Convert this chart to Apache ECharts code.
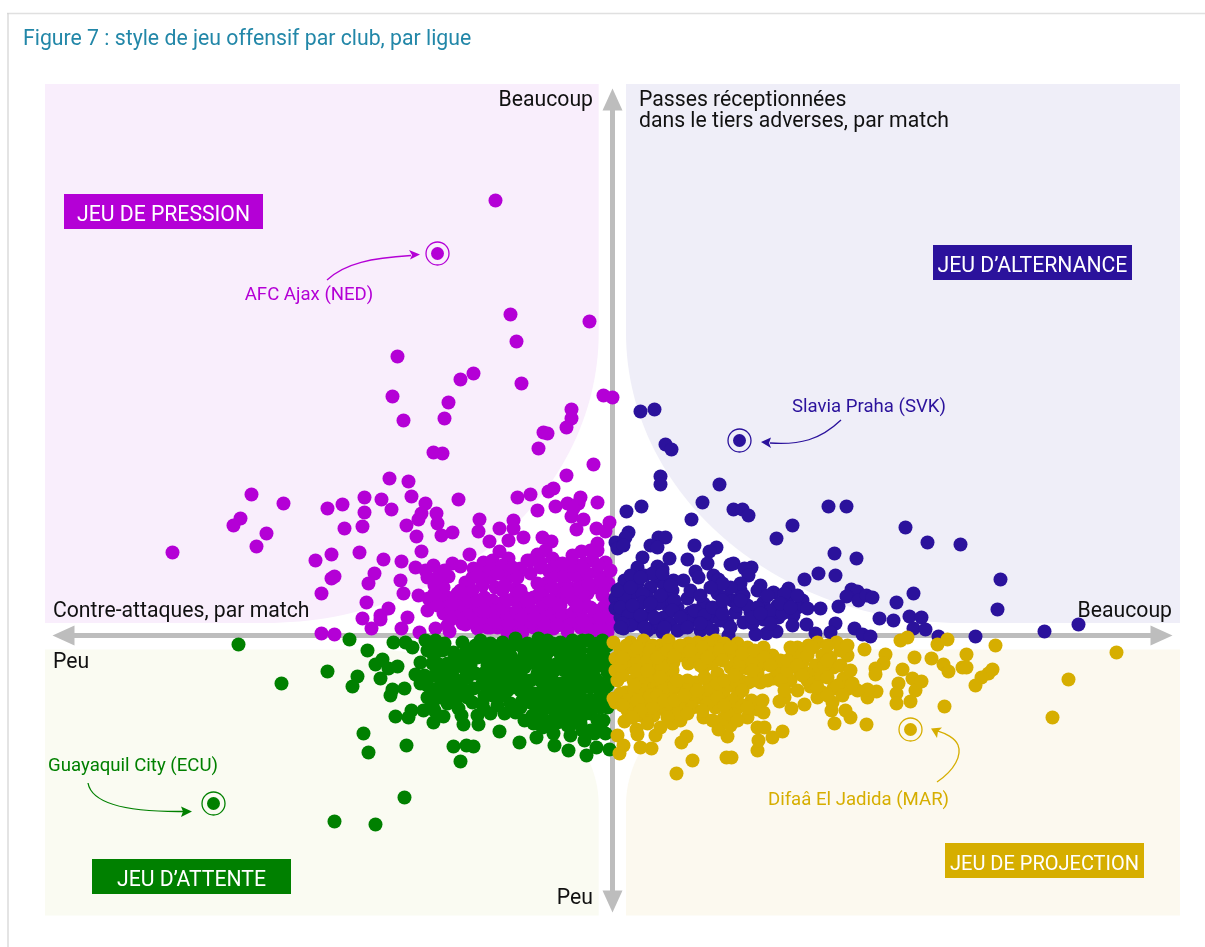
<!DOCTYPE html>
<html>
<head>
<meta charset="utf-8">
<script src="https://cdn.jsdelivr.net/npm/echarts@6/dist/echarts.min.js"></script>
<style>html,body{margin:0;padding:0;background:#fff}#c{width:1205px;height:947px}</style>
</head>
<body>
<div id="c"></div>
<script>
const pressionClubs = [[-117,435],[-102,321],[-96,294],[-23,314],[-215,279],[-139,262],[-152,256],[-91,252],[-220,239],[-164,233],[-168,217],[-209,215],
[-9,240],[0,238],[-41,226],[-41,217],[-46,208],[-69,203],[-65,202],[-74,187],[-19,171],[-46,160],[-59,147],[-64,144],[-82,141],[-95,138],[-32,138],[-45,132],[-34,132],[-15,133],[-75,125],[-57,129],[-39,127],[-41,119],[-29,116],[-99,115],[-99,107],[-113,107],[-36,106],[-3,113],[-16,107],[-7,104],
[-179,183],[-170,182],[-223,157],[-204,154],[-201,139],[-361,141],[-329,132],[-372,117],[-379,110],[-346,102],[-356,89],[-440,83],
[-285,127],[-270,131],[-248,138],[-231,136],[-221,126],[-248,123],[-250,109],[-268,107],[-187,132],[-191,122],[-194,116],[-176,122],[-175,112],[-206,110],[-196,99],[-171,100],[-160,103],[-154,136],[-133,116],[-134,104],[-123,94],[-104,95],[-89,98],[-70,98],[-61,94],[-15,92],[-15,85],[-113,84],[-104,77],[-143,81],[-191,84],[-253,83],[-281,81],[-297,75],[-229,76],[-211,74],[-197,68],[-179,70],[-187,65],[-164,59],[-160,72],[-152,69],[-238,62],[-244,52],[-212,55],[-209,42],[-281,57],[-278,59],[-291,42],[-246,33],[-224,27],[-232,20],[-232,16],[-250,17],[-241,7],[-205,18],[-211,7],[-194,40],[-184,37],[-185,25],[-193,3],[-177,7],[-163,4],[-169,22],[-161,27],[-160,17],[-147,11],[-140,26],[-291,2],[-278,1],
[-185,58],[-169,48],[-155,42],[-147,53],[-139,67],[-129,73],[-120,75],[-130,50],[-117,48],[-105,58],[-112,32],[-97,47],[-92,67],[-85,75],[-75,81],[-67,85],[-60,77],[-64,65],[-65,53],[-79,38],[-92,35],[-102,22],[-122,18],[-135,22],[-135,7],[-115,8],[-87,17],[-99,7],[-79,8],[-65,22],[-52,30],[-49,13],[-59,7],[-45,67],[-40,80],[-31,84],[-35,70],[-20,75],[-7,73],[-16,63],[-7,58],[-30,55],[-42,47],[-25,42],[-10,40],[-4,52],[-39,35],[-22,28],[-9,28],[-32,22],[-15,15],[-2,12],[-32,8],[-19,5],[-5,3],
[-48,38],[-38,24],[-72,12],[-85,25],[-108,10],[-125,8],[-70,30],[-110,45],[-55,40],[-25,15],[-45,20],[-120,35],[-125,28],
[-150,30],[-145,38],[-140,45],[-128,38],[-122,58],[-130,62],[-112,62],[-108,20],[-118,24],[-128,14],[-150,22],[-165,38],[-172,60],[-178,50],
[-95,12],[-90,28],[-82,12],[-70,20],[-60,22],[-52,18],[-42,12],[-25,8],[-12,8],[-38,14],[-18,25],[-28,32],[-12,18],[-5,20],[-30,42],[-18,48],[-8,48],[-36,47],[-48,52],[-55,60],[-50,46],[-58,34],[-70,42],[-75,52],[-80,25],[-96,24],[-104,12],[-110,28],[-88,38],[-100,36],[-122,8],[-105,2],[-90,3],[-70,3],[-45,4],[-35,30],[-62,14],[-60,48],[-72,68],[-55,72],[-48,60],[-38,60],[-25,62],[-24,52],[-14,70],[-22,85],[-2,65],[-2,35],[-40,70],[-72,73],[-82,62],
[-175,58],[-168,65],[-140,58],[-135,35],[-122,66],[-110,70],[-100,68],[-108,50],[-140,15],[-118,14],[-92,45],[-95,58],[-82,75],[-73,42],[-68,12],[-55,30],[-28,72],[-145,20],[-170,35],[-175,30],[-160,32],[-150,12],[-152,45],[-178,42],[-165,10],[-115,62],[-135,60],[-128,25],[-105,35],[-85,35],[-90,18],[-78,18],[-62,35],[-45,45],[-50,72],[-30,68],[-12,55],[-30,15],[-55,10]];

const alternanceClubs = [[28,224],[42,226],[53,191],[59,186],[48,159],[48,151],[107,151],[90,133],[121,126],[130,126],[136,120],[79,116],[14,124],[29,129],
[216,129],[234,129],[180,110],[164,97],[293,108],[16,103],[13,98],[3,93],[5,87],[11,90],[46,98],[53,98],[38,90],[45,88],[82,90],[104,88],[97,84],[30,78],[25,68],[57,77],[45,69],[50,66],[75,76],[95,72],[118,71],[121,72],[139,68],[132,67],[136,60],[83,64],[86,58],[101,60],[106,56],[222,82],[244,77],[206,62],[223,60],[192,56],[176,47],[148,50],[128,45],[161,43],[239,46],[245,44],[234,39],[246,35],[254,40],[260,38],[301,42],[284,33],[226,29],[208,27],[190,35],[185,28],[181,20],[267,17],[281,15],[297,19],[194,11],[223,12],[242,7],[203,2],[218,3],[250,1],[258,-1],[301,7],[164,4],[154,2],[143,1],[116,0],[166,18],[151,16],[138,23],[131,13],[123,23],[115,13],[101,19],[91,32],[105,42],[108,28],[120,35],[131,40],[151,33],[165,30],[175,35],[100,5],[85,15],[78,23],[75,37],[78,45],[71,55],[61,55],[55,42],[45,55],[38,48],[25,52],[8,47],[3,37],[3,27],[15,33],[21,42],[35,38],[25,27],[38,22],[51,18],[65,28],[55,30],[11,7],[25,12],[40,8],[58,12],[71,8],[88,5],[8,18],[46,32],
[315,93],[348,91],[388,56],[385,26],[309,18],[466,11],[432,4],[363,-1],[313,6],[326,-1],
[12,55],[18,60],[32,60],[40,62],[52,50],[60,45],[30,42],[12,38],[8,28],[16,20],[30,33],[48,40],[62,35],[70,20],[60,25],[45,12],[30,18],[18,10],[35,5],[50,3],[65,5],[76,14],[82,25],[92,20],[95,8],[108,15],[112,38],[125,30],[135,30],[140,12],[145,45],[155,40],[158,25],[170,22],[172,42],[185,40],[195,27],[145,28],[128,52],[118,48],[110,52],[10,12],
[20,30],[28,20],[38,32],[42,18],[52,8],[68,18],[75,8],[88,12],[100,28],[110,22],[118,8],[128,35],[140,18],[148,22],[158,12],[168,32],[178,28],[180,10],[5,45],[18,48],[28,58],[50,62],[58,50],[8,8],[32,8],[88,40],[98,48],[110,35]];

const attenteClubs = [[-374,-9],[-331,-48],[-285,-36],[-208,-162],[-278,-186],[-237,-189],
[-263,-4],[-245,-15],[-219,-7],[-207,-7],[-200,-12],[-230,-24],[-237,-29],[-224,-33],[-215,-31],[-232,-43],[-255,-41],[-260,-51],[-220,-54],[-208,-53],[-222,-60],[-217,-81],[-204,-82],[-201,-75],[-249,-98],[-244,-117],[-206,-110],[-159,-111],[-146,-110],[-139,-111],[-152,-126],[-134,-89],[-113,-96],[-93,-107],[-76,-102],[-58,-110],[-44,-115],[-26,-120],[-16,-112],[-3,-114],[-149,-89],[-154,-73],[-151,-80],[-179,-87],[-169,-81],[-189,-75],
[-187,-5],[-177,-5],[-180,-18],[-192,-27],[-175,-28],[-197,-39],[-159,-17],[-150,-7],[-132,-5],[-137,-10],[-144,-23],[-159,-33],[-159,-42],[-137,-38],[-185,-50],[-172,-50],[-185,-62],[-159,-52],[-139,-53],[-140,-67],[-129,-73],[-119,-52],[-115,-70],[-112,-58],[-110,-7],[-115,-27],[-92,-10],[-97,-3],[-102,-20],[-99,-38],[-92,-55],[-97,-77],[-80,-80],[-79,-88],[-74,-3],[-65,-5],[-72,-22],[-75,-38],[-72,-58],[-65,-72],[-59,-98],[-42,-100],[-55,-87],[-52,-7],[-55,-28],[-52,-48],[-50,-68],[-40,-5],[-42,-25],[-39,-43],[-35,-72],[-32,-88],[-22,-95],[-24,-5],[-25,-25],[-17,-43],[-22,-78],[-9,-85],[-7,-98],[-10,-5],[-9,-20],[-5,-37],[-9,-58],[-12,-72],[-29,-52],[-62,-38],[-85,-25],[-125,-22],[-129,-38],[-82,-45],[-105,-28],[-69,-52],[-82,-67],[-45,-57],[-32,-62],[-55,-15],[-32,-15],[-65,-17],[-19,-15],[-112,-15],[-127,-50],
[-105,-45],[-60,-85],[-45,-80],[-88,-32],[-62,-62],[-48,-35],[-35,-30],[-112,-42],[-128,-60],[-172,-62],[-165,-68],[-76,-15],[-15,-28],[-20,-65],
[-170,-15],[-165,-28],[-150,-20],[-130,-15],[-122,-8],[-118,-35],[-125,-30],[-108,-18],[-100,-10],[-85,-8],[-82,-18],[-92,-25],[-95,-45],[-85,-55],[-108,-60],[-102,-68],[-90,-65],[-78,-58],[-72,-32],[-65,-28],[-60,-8],[-48,-15],[-48,-25],[-60,-45],[-58,-55],[-50,-58],[-40,-35],[-32,-35],[-25,-38],[-18,-33],[-10,-30],[-22,-52],[-15,-50],[-38,-55],[-25,-65],[-40,-65],[-55,-65],[-58,-75],[-70,-82],[-88,-85],[-45,-90],[-30,-80],[-12,-60],[-15,-85],[-18,-98],[-28,-105],[-40,-88],[-65,-88],[-5,-72],[-5,-10],[-15,-8],[-30,-5],[-15,-18],[-5,-25],[-120,-60],[-118,-42],[-105,-55],[-145,-42],[-148,-33],[-165,-42],[-148,-55],[-175,-60],[-178,-40],[-188,-40],[-180,-70],[-160,-62],
[-180,-28],[-170,-38],[-168,-8],[-155,-25],[-145,-15],[-142,-30],[-135,-22],[-128,-10],[-120,-18],[-118,-25],[-108,-35],[-100,-30],[-92,-35],[-88,-18],[-78,-28],[-70,-12],[-65,-38],[-58,-35],[-52,-18],[-42,-15],[-35,-20],[-28,-25],[-20,-22],[-10,-12],[-32,-45],[-45,-45],[-22,-42],[-12,-48],[-5,-50],[-72,-45],[-88,-45],[-100,-52],[-112,-50],[-130,-48],[-150,-45],[-155,-62],[-145,-62],[-130,-68],[-122,-78],[-108,-78],[-92,-72],[-75,-70],[-68,-62],[-48,-72],[-42,-75],[-28,-72],[-18,-72],[-8,-68],[-12,-92],[-30,-95],[-35,-80],[-50,-78],[-70,-92],[-180,-58],[-192,-48],[-175,-15],[-185,-15],[-178,-75],[-165,-55],[-135,-80]];

const projectionClubs = [[64,-138],[80,-125],[114,-122],[119,-122],[145,-115],[146,-105],[160,-102],[170,-96],[145,-92],[152,-92],[115,-101],[106,-94],[118,-90],[74,-101],[69,-107],[43,-100],[48,-92],[39,-113],[28,-112],[24,-94],[25,-99],[12,-86],[5,-100],[11,-110],[7,-118],[222,-88],[254,-89],[238,-82],[233,-75],[219,-75],[192,-69],[179,-73],[167,-66],[172,-62],[151,-77],[145,-74],[135,-82],[139,-65],[125,-60],[123,-75],[111,-83],[103,-72],[91,-82],[68,-85],[60,-88],[53,-75],[28,-80],[41,-80],[3,-67],
[252,-14],[273,-19],[271,-28],[263,-33],[263,-39],[302,-22],[290,-34],[300,-43],[286,-48],[284,-58],[284,-68],[298,-66],[303,-55],[264,-56],[255,-62],[255,-54],[245,-55],[236,-53],[231,-43],[221,-32],[221,-53],[220,-67],[210,-57],[198,-51],[205,-45],[208,-38],[203,-30],[210,-20],[218,-22],[235,-20],[228,-15],[224,-7],[205,-7],[196,-10],[185,-12],[180,-20],[190,-27],[188,-38],[178,-45],[185,-55],[161,-43],[165,-35],[151,-12],[160,-20],[148,-30],[148,-47],[135,-33],[136,-47],[128,-45],[125,-8],[115,-15],[135,-12],[108,-23],[118,-32],[103,-5],[95,-7],[85,-7],[76,-8],[88,-18],[76,-28],[91,-32],[105,-38],[83,-47],[101,-50],[111,-58],[88,-62],[68,-53],[58,-60],[71,-68],[43,-65],[31,-67],[25,-58],[13,-57],[1,-63],[5,-45],[3,-35],[3,-23],[1,-7],[18,-7],[31,-5],[31,-17],[16,-20],[18,-32],[31,-33],[48,-10],[56,-5],[63,-12],[51,-22],[61,-27],[45,-37],[58,-42],[38,-48],[21,-45],[13,-67],
[288,-5],[295,-2],[325,-9],[335,-4],[383,-10],[354,-19],[319,-23],[331,-29],[336,-36],[350,-32],[354,-32],[309,-46],[332,-71],[380,-34],[376,-38],[369,-42],[363,-50],[504,-17],[456,-44],[440,-82],
[10,-40],[25,-25],[40,-25],[15,-75],[30,-45],[70,-20],[60,-35],[75,-45],[45,-50],[95,-45],[20,-60],[60,-72],[90,-25],[48,-55],[80,-65],[100,-62],
[8,-15],[8,-30],[8,-58],[22,-15],[24,-35],[35,-25],[40,-10],[38,-40],[50,-32],[52,-45],[65,-20],[72,-15],[82,-20],[90,-12],[100,-18],[100,-28],[112,-8],[122,-20],[15,-65],[22,-72],[35,-72],[48,-70],[55,-68],[30,-55],[50,-55],[62,-50],[75,-55],[80,-72],[65,-78],[40,-72],[35,-88],[95,-55],[95,-68],[105,-62],[118,-50],[125,-35],[128,-25],[140,-25],[145,-38],[155,-45],[168,-45],[172,-55],[175,-35],[195,-38],[190,-18],[195,-45],[212,-30],[215,-42],[225,-50],[120,-65],[130,-70],[150,-65],[115,-78],[100,-85],[90,-75],[215,-10],[235,-10],[205,-62],
[10,-22],[14,-10],[25,-12],[38,-15],[45,-22],[55,-15],[62,-20],[68,-10],[78,-15],[88,-30],[95,-22],[108,-14],[118,-12],[130,-18],[142,-15],[152,-22],[168,-25],[178,-12],[195,-20],[200,-12],[215,-25],[228,-30],[238,-35],[10,-70],[25,-65],[38,-60],[28,-75],[45,-60],[52,-65],[62,-65],[72,-60],[85,-55],[105,-48],[112,-45],[125,-48],[130,-55],[140,-45],[158,-30],[175,-25],[185,-30],[190,-40],[205,-52],[215,-60],[230,-60],[240,-48],[22,-50],[35,-35],[48,-42],[65,-45],[92,-42],[110,-25],[122,-40],[140,-35],[112,-70],[125,-85],[135,-72],[20,-82],[55,-82],[75,-78]];

const highlightedClubs = [
  {name:'AFC Ajax (NED)', value:[-175,382], color:'#b400d6'},
  {name:'Slavia Praha (SVK)', value:[127,195], color:'#2b129c'},
  {name:'Difaâ El Jadida (MAR)', value:[298,-94], color:'#d6ae00'},
  {name:'Guayaquil City (ECU)', value:[-399,-168], color:'#008000'}
];
const colors = {press:'#b400d6', alt:'#2b129c', att:'#008000', proj:'#d6ae00'};
const F = 'Roboto, sans-serif';

function dots(data,color){
  return {type:'scatter',data:data,symbol:'circle',symbolSize:14,silent:true,
    itemStyle:{color:color,opacity:1},emphasis:{disabled:true}};
}
function arc(cx,cy,rx,ry,a0,a1){
  const out=[];
  for(let i=0;i<=60;i++){const a=(a0+(a1-a0)*i/60)*Math.PI/180;out.push([cx+rx*Math.cos(a),cy+ry*Math.sin(a)]);}
  return out;
}
function bg(pts,fill){return {type:'polygon',z:-2,silent:true,shape:{points:pts},style:{fill:fill}};}
function txt(x,y,t,fill,size,align){return {type:'text',z:1,silent:true,x:x,y:y+2,style:{text:t,fill:fill,font:size+'px '+F,textAlign:align||'left',textVerticalAlign:'middle'}};}
function box(x,y,w,h,fill,t,size){return [
  {type:'rect',z:1,silent:true,shape:{x:x,y:y,width:w,height:h},style:{fill:fill}},
  {type:'text',z:1.5,silent:true,x:x+w/2,y:y+h/2+4.5,style:{text:t,fill:'#fff',font:(size||21.2)+'px '+F,textAlign:'center',textVerticalAlign:'middle'}}
];}
function curve(p,color){return {type:'bezierCurve',z:1,silent:true,shape:{x1:p[0],y1:p[1],cpx1:p[2],cpy1:p[3],cpx2:p[4],cpy2:p[5],x2:p[6],y2:p[7]},style:{fill:'none',stroke:color,lineWidth:1.3}};}
function head(pts,color){return {type:'polygon',z:1,silent:true,shape:{points:pts},style:{fill:color}};}

const graphics = [
  {type:'line',z:-3,silent:true,shape:{x1:7,y1:13.5,x2:1205,y2:13.5},style:{stroke:'#e0e0e0',lineWidth:1.6}},
  {type:'line',z:-3,silent:true,shape:{x1:8,y1:13,x2:8,y2:947},style:{stroke:'#d2d2d2',lineWidth:1.2}},
  bg([[45,84],[598.7,84],...arc(265,333,333.7,290,0,90),[45,623]],'#f9eefc'),
  bg([[1180,84],[626,84],...arc(960,333,334,290,180,90),[1180,623]],'#efeef8'),
  bg([[45,915.5],[598.7,915.5],...arc(365,805,233.7,155.5,0,-90),[45,649.5]],'#fafbf2'),
  bg([[1180,915.5],[626,915.5],...arc(860,805,234,155.5,180,270),[1180,649.5]],'#fcf9ef'),
  txt(23,38,'Figure 7 : style de jeu offensif par club, par ligue','#2287a8',21.25),
  txt(593,99,'Beaucoup','#111',21.2,'right'),
  txt(639,99,'Passes réceptionnées','#111',21.2),
  txt(639,120,'dans le tiers adverses, par match','#111',21.2),
  txt(53,610,'Contre-attaques, par match','#111',21.2),
  txt(1172,610,'Beaucoup','#111',21.2,'right'),
  txt(53,661,'Peu','#111',21.2),
  txt(593,897,'Peu','#111',21.2,'right'),
  ...box(64,194,199,35,colors.press,'JEU DE PRESSION'),
  ...box(933,245,199,35,colors.alt,'JEU D’ALTERNANCE'),
  ...box(92,859,199,35,colors.att,'JEU D’ATTENTE'),
  ...box(945,843,199,35,colors.proj,'JEU DE PROJECTION',20),
  txt(309,293,highlightedClubs[0].name,colors.press,18.6,'center'),
  txt(869,405.5,highlightedClubs[1].name,colors.alt,18.6,'center'),
  txt(858.5,798,highlightedClubs[2].name,colors.proj,18.6,'center'),
  txt(133,764,highlightedClubs[3].name,colors.att,18.6,'center'),
  curve([327,280,345,263,372,258,411,255.5],colors.press),
  head([[420,254.5],[409,250],[412,255],[410,259.5]],colors.press),
  curve([841,420,820,440,800,445,770,443],colors.alt),
  head([[761,442],[771,437.5],[769,443],[771,448]],colors.alt),
  curve([937,782,955,770,962,755,958,745],colors.proj),
  curve([958,745,955,738,945,733,938,731],colors.proj),
  head([[931,728.5],[942,727.5],[938,731.5],[937,738]],colors.proj),
  curve([88,783,92,805,130,812,183,811.5],colors.att),
  head([[192,811.5],[181,806.5],[183,811.5],[181,817]],colors.att)
];

const axisBase = {type:'value',splitLine:{show:false},axisTick:{show:false},axisLabel:{show:false},
  axisLine:{show:true,onZero:true,symbol:['triangle','triangle'],symbolSize:[20,22],lineStyle:{color:'#bdbdbd',width:5}}};

const chart = echarts.init(document.getElementById('c'),null,{renderer:'canvas'});
chart.setOption({
  animation:false,
  backgroundColor:'#fff',
  textStyle:{fontFamily:F},
  grid:{left:63.5,top:99.5,width:1098,height:802,containLabel:false},
  xAxis:Object.assign({},axisBase,{min:-549,max:549}),
  yAxis:Object.assign({},axisBase,{min:-266,max:536}),
  graphic:graphics,
  series:[
    dots(pressionClubs,colors.press),
    dots(alternanceClubs,colors.alt),
    dots(attenteClubs,colors.att),
    dots(projectionClubs,colors.proj),
    {type:'scatter',silent:true,symbol:'circle',symbolSize:13,
      data:highlightedClubs.map(d=>({name:d.name,value:d.value,itemStyle:{color:d.color,opacity:1}}))},
    {type:'scatter',silent:true,symbol:'circle',symbolSize:23,
      data:highlightedClubs.map(d=>({name:d.name,value:d.value,itemStyle:{color:'rgba(0,0,0,0)',borderColor:d.color,borderWidth:1.3,opacity:1}}))}
  ]
});
</script>
</body>
</html>
